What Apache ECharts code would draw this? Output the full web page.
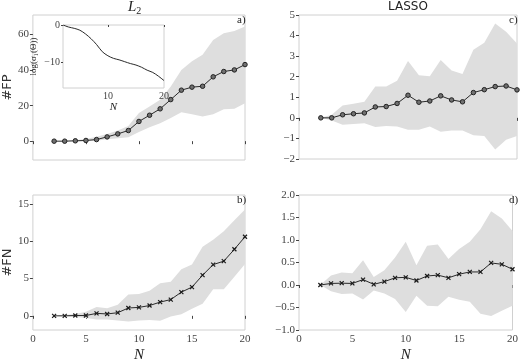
<!DOCTYPE html>
<html>
<head>
<meta charset="utf-8">
<script src="https://cdn.jsdelivr.net/npm/echarts@6/dist/echarts.min.js"></script>
<style>
  html, body { margin: 0; padding: 0; background: #fff; }
  #main { width: 521px; height: 364px; }
</style>
</head>
<body>
<div id="main"></div>
<script>
// N values shared by all panels
const Ns = [2, 3, 4, 5, 6, 7, 8, 9, 10, 11, 12, 13, 14, 15, 16, 17, 18, 19, 20];

// a) L2, #FP
const fpL2 = [0, 0, 0.2, 0.4, 0.9, 2.4, 4.1, 6.0, 11.1, 14.6, 18.2, 23.4, 28.7, 30.4, 30.9, 36.2, 39.2, 40.1, 43.1];
const fpL2Upper = [0, 0.1, 0.5, 1.2, 2.5, 4.0, 6.0, 8.5, 15.8, 19.5, 23.3, 30.8, 40.0, 45.0, 48.6, 57.0, 60.8, 62.0, 64.5];
const fpL2Lower = [0, 0, 0, 0, 0.3, 1.1, 1.6, 2.2, 5.2, 7.9, 10.1, 13.0, 16.3, 15.2, 13.9, 15.2, 18.0, 18.2, 21.4];

// inset: log(sigma_1(Theta))
const logSigma = [0, -0.55, -0.9, -1.4, -2.4, -3.7, -5.3, -7.2, -8.3, -9.0, -9.4, -9.9, -10.4, -10.8, -11.4, -12.2, -12.8, -13.8, -15.0];

// b) L2, #FN
const fnL2 = [0, 0, 0.04, 0.04, 0.33, 0.25, 0.42, 1.05, 1.13, 1.38, 1.84, 2.18, 3.18, 3.85, 5.45, 6.87, 7.33, 8.92, 10.6];
const fnL2Upper = [0, 0.1, 0.25, 0.55, 1.2, 1.0, 1.5, 2.85, 2.93, 3.35, 4.36, 4.57, 6.24, 6.87, 9.26, 10.2, 11.35, 12.8, 14.24];
const fnL2Lower = [0, -0.05, -0.15, -0.3, -0.5, -0.5, -0.63, -0.75, -0.63, -0.55, -0.67, -0.1, 0.2, 0.96, 1.63, 3.56, 3.56, 5.24, 6.95];

// c) LASSO, #FP
const fpLasso = [0, 0, 0.15, 0.2, 0.24, 0.53, 0.55, 0.7, 1.1, 0.76, 0.82, 1.07, 0.87, 0.78, 1.23, 1.37, 1.52, 1.55, 1.36];
const fpLassoUpper = [0, 0.15, 0.6, 0.68, 0.78, 1.52, 1.52, 1.8, 2.76, 2.07, 2.02, 2.81, 2.3, 2.13, 3.31, 3.65, 4.59, 4.19, 3.62];
const fpLassoLower = [0, -0.13, -0.34, -0.3, -0.26, -0.45, -0.4, -0.42, -0.58, -0.58, -0.42, -0.68, -0.61, -0.61, -0.84, -0.88, -1.54, -1.07, -0.88];

// d) LASSO, #FN
const fnLasso = [0, 0.035, 0.04, 0.035, 0.12, 0.014, 0.076, 0.16, 0.17, 0.1, 0.2, 0.22, 0.16, 0.24, 0.29, 0.29, 0.49, 0.46, 0.35];
const fnLassoUpper = [0, 0.21, 0.28, 0.26, 0.55, 0.18, 0.33, 0.61, 0.96, 0.44, 0.87, 0.9, 0.58, 0.8, 0.96, 1.24, 1.64, 1.48, 1.2];
const fnLassoLower = [0, -0.14, -0.2, -0.19, -0.32, -0.12, -0.19, -0.31, -0.6, -0.24, -0.46, -0.47, -0.26, -0.33, -0.37, -0.64, -0.69, -0.57, -0.46];

// tick labels
const fpL2Ticks = [0, 20, 40, 60];
const fnL2Ticks = [0, 5, 10, 15];
const insetXTicks = [10, 20];
const insetYTicks = [0, -10];

const serif = "'Liberation Serif', 'DejaVu Serif', serif";
const sans = "'DejaVu Sans', sans-serif";
const minus = v => String(v).replace('-', '\u2212');
const tickColor = '#444';

const chart = echarts.init(document.getElementById('main'));

const frame = { show: true, borderColor: '#d0d0d0', borderWidth: 1, backgroundColor: '#fff' };

const xAx = (gi, showLabels) => ({
  type: 'value', gridIndex: gi, min: 0, max: 20, interval: 5,
  axisLine: { show: false },
  axisTick: { show: true, length: 3, lineStyle: { color: tickColor } },
  axisLabel: { show: showLabels, color: tickColor, fontFamily: serif, fontSize: 11, margin: 4 },
  splitLine: { show: false },
  name: showLabels ? 'N' : '',
  nameLocation: 'middle', nameGap: 18,
  nameTextStyle: { fontFamily: serif, fontStyle: 'italic', fontSize: 15, color: '#222' }
});

const yAx = (gi, opts) => Object.assign({
  type: 'value', gridIndex: gi,
  axisLine: { show: false },
  axisTick: { show: true, length: 3, lineStyle: { color: tickColor } },
  axisLabel: { color: tickColor, fontFamily: serif, fontSize: 11, margin: 4, formatter: minus },
  splitLine: { show: false },
  nameLocation: 'middle', nameGap: 16,
  nameTextStyle: { fontFamily: sans, fontSize: 13, color: '#333' }
}, opts);

function band(idx, lower, upper) {
  return {
    type: 'custom', xAxisIndex: idx, yAxisIndex: idx, silent: true, z: 1,
    data: [[Ns[0], lower[0]]],
    renderItem: (params, api) => {
      const pts = [];
      Ns.forEach((n, i) => pts.push(api.coord([n, upper[i]])));
      for (let i = Ns.length - 1; i >= 0; i--) pts.push(api.coord([Ns[i], lower[i]]));
      return { type: 'polygon', shape: { points: pts }, style: { fill: '#dedede' } };
    }
  };
}

function line(idx, vals, cross) {
  return {
    type: 'line', xAxisIndex: idx, yAxisIndex: idx, z: 3,
    data: Ns.map((n, i) => [n, vals[i]]),
    symbol: cross ? 'path://M0 0L10 10M10 0L0 10' : 'circle',
    symbolSize: cross ? 4 : 4.5,
    lineStyle: { color: '#2a2a2a', width: 1 },
    itemStyle: cross
      ? { color: 'none', borderColor: '#1a1a1a', borderWidth: 1.2 }
      : { color: '#707070', borderColor: '#222', borderWidth: 1 }
  };
}

const corner = (x, y, t) => ({
  type: 'text', left: x, top: y, z: 10,
  style: { text: t, fontFamily: serif, fontSize: 11, fill: '#222' }
});

const option = {
  animation: false,
  backgroundColor: '#fff',
  grid: [
    Object.assign({ left: 27, top: 15, width: 218, height: 145 }, frame),
    Object.assign({ left: 27, top: 195, width: 218, height: 144 }, frame),
    Object.assign({ left: 299, top: 15, width: 218, height: 144 }, frame),
    Object.assign({ left: 299, top: 195, width: 218, height: 145 }, frame),
    Object.assign({ left: 63, top: 25, width: 101, height: 63, z: 5 }, frame)
  ],
  xAxis: [
    xAx(0, false), xAx(1, true), xAx(2, false), xAx(3, true),
    {
      type: 'value', gridIndex: 4, min: 2, max: 20, z: 6,
      axisLine: { show: false },
      axisTick: { show: true, length: 2, customValues: insetXTicks, lineStyle: { color: tickColor } },
      axisLabel: { customValues: insetXTicks, color: tickColor, fontFamily: serif, fontSize: 10, margin: 3 },
      splitLine: { show: false },
      name: 'N', nameLocation: 'middle', nameGap: 14,
      nameTextStyle: { fontFamily: serif, fontStyle: 'italic', fontSize: 11, color: '#222' }
    }
  ],
  yAxis: [
    yAx(0, {
      min: -10.6, max: 71, name: '#FP',
      axisTick: { show: true, length: 3, customValues: fpL2Ticks, lineStyle: { color: tickColor } },
      axisLabel: { customValues: fpL2Ticks, color: tickColor, fontFamily: serif, fontSize: 11, margin: 4 }
    }),
    yAx(1, {
      min: -1.9, max: 16.2, name: '#FN',
      axisTick: { show: true, length: 3, customValues: fnL2Ticks, lineStyle: { color: tickColor } },
      axisLabel: { customValues: fnL2Ticks, color: tickColor, fontFamily: serif, fontSize: 11, margin: 4 }
    }),
    yAx(2, { min: -2, max: 5, interval: 1 }),
    yAx(3, {
      min: -1, max: 2, interval: 0.5,
      axisLabel: { color: tickColor, fontFamily: serif, fontSize: 11, margin: 4, formatter: v => minus(v.toFixed(1)) }
    }),
    {
      type: 'value', gridIndex: 4, min: -17, max: 0, z: 6,
      axisLine: { show: false },
      axisTick: { show: true, length: 2, customValues: insetYTicks, lineStyle: { color: tickColor } },
      axisLabel: { customValues: insetYTicks, color: tickColor, fontFamily: serif, fontSize: 10, margin: 3, formatter: minus },
      splitLine: { show: false },
      name: 'log(\u03c3\u2081(\u0398))', nameLocation: 'middle', nameGap: 25,
      nameTextStyle: { fontFamily: serif, fontSize: 9, color: '#222' }
    }
  ],
  graphic: [
    {
      type: 'text', left: 128, top: 0, z: 10,
      style: {
        text: '{i|L}{s|2}',
        rich: {
          i: { fontFamily: serif, fontStyle: 'italic', fontSize: 15, fill: '#222' },
          s: { fontFamily: serif, fontSize: 10, fill: '#222', padding: [8, 0, 0, 0] }
        }
      }
    },
    {
      type: 'text', left: 388, top: 1, z: 10,
      style: { text: 'LASSO', fontFamily: sans, fontSize: 12, fill: '#222' }
    },
    corner(237, 15, 'a)'),
    corner(237, 195, 'b)'),
    corner(509, 15, 'c)'),
    corner(509, 195, 'd)')
  ],
  series: [
    band(0, fpL2Lower, fpL2Upper), line(0, fpL2, false),
    band(1, fnL2Lower, fnL2Upper), line(1, fnL2, true),
    band(2, fpLassoLower, fpLassoUpper), line(2, fpLasso, false),
    band(3, fnLassoLower, fnLassoUpper), line(3, fnLasso, true),
    {
      type: 'line', xAxisIndex: 4, yAxisIndex: 4, z: 7, smooth: 0.3,
      data: Ns.map((n, i) => [n, logSigma[i]]),
      symbol: 'none',
      lineStyle: { color: '#2a2a2a', width: 1 }
    }
  ]
};

chart.setOption(option);
</script>
</body>
</html>
